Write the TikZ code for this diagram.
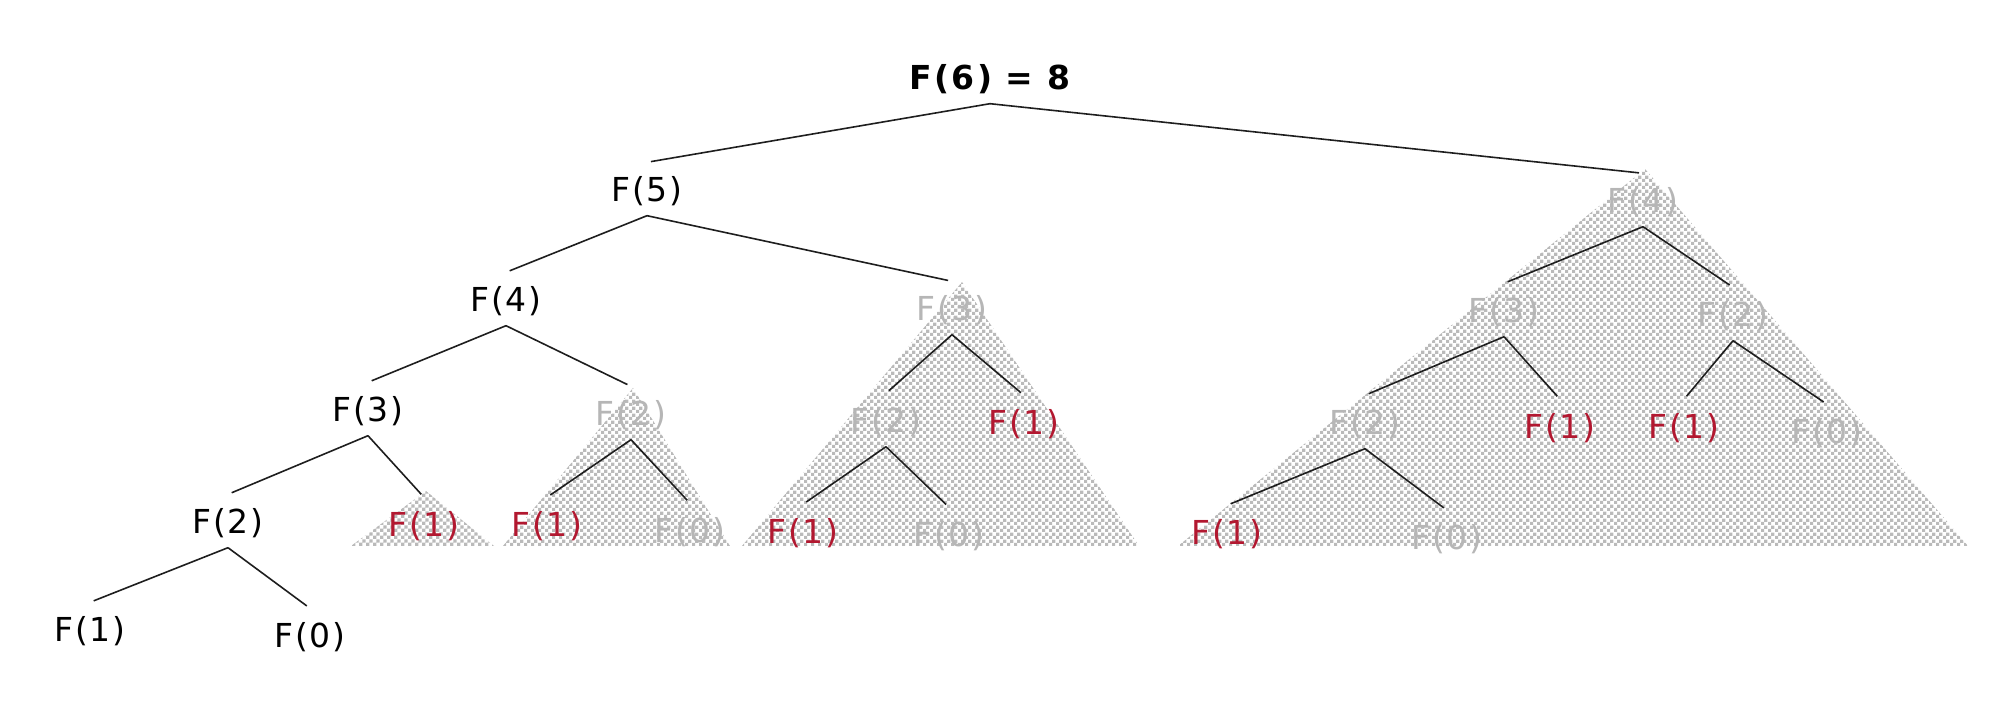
\documentclass[tikz,border=0pt]{standalone}
\usepackage{fontspec}
\setmainfont{DejaVu Sans}[LetterSpace=5]
\usetikzlibrary{patterns}
\definecolor{fred}{RGB}{178,24,48}
\definecolor{fgray}{RGB}{182,182,182}
\definecolor{fline}{RGB}{30,30,30}
\definecolor{fcheck}{RGB}{186,186,186}
\pgfdeclarepatternformonly{fchecker}{\pgfpointorigin}{\pgfqpoint{3.6pt}{3.6pt}}{\pgfqpoint{3.6pt}{3.6pt}}{%
  \pgfpathrectangle{\pgfpointorigin}{\pgfqpoint{1.8pt}{1.8pt}}%
  \pgfpathrectangle{\pgfqpoint{1.8pt}{1.8pt}}{\pgfqpoint{1.8pt}{1.8pt}}%
  \pgfusepath{fill}}
\tikzset{
  lbl/.style={font=\fontsize{16.5}{19}\selectfont, text height=16.2pt, text depth=4.1pt,
              inner xsep=0pt, inner ysep=3pt, anchor=center},
  blk/.style={lbl, text=black},
  gry/.style={lbl, text=fgray},
  rd/.style={lbl, text=fred},
  edge/.style={draw=fline, line width=0.8pt, shorten >=2pt},
  shade/.style={pattern=fchecker, pattern color=fcheck},
}
\begin{document}
\begin{tikzpicture}[x=0.5pt, y=-0.5pt]
\path[use as bounding box] (0,0) rectangle (2010,704);
% shaded sub-trees
\path[shade] (426,491) -- (351,546) -- (494,546) -- cycle;
\path[shade] (633,388) -- (503,546) -- (730,546) -- cycle;
\path[shade] (962,282) -- (742,546) -- (1139,546) -- cycle;
\path[shade] (1645,169) -- (1178,546) -- (1968,546) -- cycle;
% nodes
\node[blk, font=\fontsize{16.5}{19}\selectfont\bfseries\addfontfeatures{LetterSpace=7}] (n6) at (990,77) {F(6) = 8};
\node[blk] (n5) at (647,189) {F(5)};
\node[gry] (n4b) at (1643,200) {F(4)};
\node[blk] (n4a) at (506,299) {F(4)};
\node[gry] (n3b) at (952,308) {F(3)};
\node[gry] (n3c) at (1504,310) {F(3)};
\node[gry] (n2d) at (1733,314) {F(2)};
\node[blk] (n3a) at (368,409) {F(3)};
\node[gry] (n2b) at (631,413) {F(2)};
\node[gry] (n2c) at (886,420) {F(2)};
\node[rd]  (n1c) at (1024,422) {F(1)};
\node[gry] (n2e) at (1365,422) {F(2)};
\node[rd]  (n1e) at (1560,426) {F(1)};
\node[rd]  (n1f) at (1684,426) {F(1)};
\node[gry] (n0f) at (1827,431) {F(0)};
\node[blk] (n2a) at (228,521) {F(2)};
\node[rd]  (n1a) at (424,524) {F(1)};
\node[rd]  (n1b) at (547,524) {F(1)};
\node[gry] (n0b) at (690,530) {F(0)};
\node[rd]  (n1d) at (803,531) {F(1)};
\node[gry] (n0d) at (949,534) {F(0)};
\node[rd]  (n1g) at (1227,532) {F(1)};
\node[gry] (n0g) at (1447,537) {F(0)};
\node[blk] (n1z) at (90,629) {F(1)};
\node[blk] (n0z) at (310,635) {F(0)};
% edges
\draw[edge] (n6.south) -- (n5.north);
\draw[edge] (n6.south) -- (n4b.north);
\draw[edge] (n5.south) -- (n4a.north);
\draw[edge] (n5.south) -- (n3b.north);
\draw[edge] (n4a.south) -- (n3a.north);
\draw[edge] (n4a.south) -- (n2b.north);
\draw[edge] (n3a.south) -- (n2a.north);
\draw[edge] (n3a.south) -- (n1a.north);
\draw[edge] (n2a.south) -- (n1z.north);
\draw[edge] (n2a.south) -- (n0z.north);
\draw[edge] (n2b.south) -- (n1b.north);
\draw[edge] (n2b.south) -- (n0b.north);
\draw[edge] (n3b.south) -- (n2c.north);
\draw[edge] (n3b.south) -- (n1c.north);
\draw[edge] (n2c.south) -- (n1d.north);
\draw[edge] (n2c.south) -- (n0d.north);
\draw[edge] (n4b.south) -- (n3c.north);
\draw[edge] (n4b.south) -- (n2d.north);
\draw[edge] (n3c.south) -- (n2e.north);
\draw[edge] (n3c.south) -- (n1e.north);
\draw[edge] (n2d.south) -- (n1f.north);
\draw[edge] (n2d.south) -- (n0f.north);
\draw[edge] (n2e.south) -- (n1g.north);
\draw[edge] (n2e.south) -- (n0g.north);
\end{tikzpicture}
\end{document}
